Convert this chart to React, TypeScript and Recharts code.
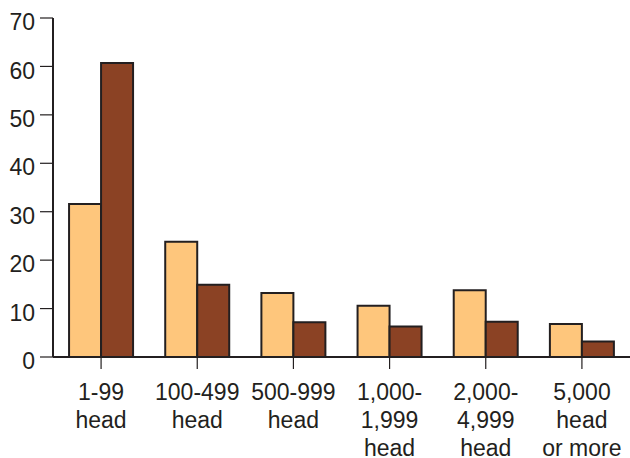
import React from 'react';
import { Bar, BarChart, XAxis, YAxis } from 'recharts';

const categories = ['1-99 head', '100-499 head', '500-999 head', '1,000-1,999 head', '2,000-4,999 head', '5,000 head or more'];
const tickLines = [
  ['1-99', 'head'],
  ['100-499', 'head'],
  ['500-999', 'head'],
  ['1,000-', '1,999', 'head'],
  ['2,000-', '4,999', 'head'],
  ['5,000', 'head', 'or more'],
];
const lightValues = [31.6, 23.8, 13.2, 10.6, 13.8, 6.8];
const darkValues = [60.7, 14.9, 7.2, 6.3, 7.3, 3.2];
const yTicks = [0, 10, 20, 30, 40, 50, 60, 70];

const data = categories.map((c, i) => ({ name: c, light: lightValues[i], dark: darkValues[i] }));

const FONT = '"Liberation Sans", Arial, Helvetica, sans-serif';
const INK = '#231f20';

function CategoryTick(props: any) {
  const { x, y, index } = props;
  const lines = tickLines[index] || [];
  return (
    <text x={x} y={y + 29} textAnchor="middle" fill={INK} fontSize={23} fontFamily={FONT}>
      {lines.map((l, i) => (
        <tspan key={i} x={x} dy={i === 0 ? 0 : 28}>
          {l}
        </tspan>
      ))}
    </text>
  );
}

export default function App() {
  return (
    <div style={{ position: 'fixed', left: 0, top: 0, width: 630, height: 458, background: '#fff' }}>
      <BarChart
        width={630}
        height={458}
        data={data}
        margin={{ top: 18, right: 0, bottom: 0, left: 0 }}
        barCategoryGap="16.7%"
        barGap={0}
      >
        <XAxis
          dataKey="name"
          height={101}
          interval={0}
          tickSize={12}
          tickMargin={2}
          axisLine={{ stroke: INK, strokeWidth: 2 }}
          tickLine={{ stroke: INK, strokeWidth: 1.2 }}
          tick={<CategoryTick />}
        />
        <YAxis
          width={53}
          domain={[0, 70]}
          ticks={yTicks}
          interval={0}
          tickSize={13}
          tickMargin={5}
          axisLine={{ stroke: INK, strokeWidth: 2 }}
          tickLine={{ stroke: INK, strokeWidth: 1.2 }}
          tick={{ fill: INK, fontSize: 23, fontFamily: FONT, dy: 4 }}
        />
        <Bar dataKey="light" fill="#fec67c" stroke={INK} strokeWidth={2} isAnimationActive={false} />
        <Bar dataKey="dark" fill="#8b4224" stroke={INK} strokeWidth={2} isAnimationActive={false} />
      </BarChart>
    </div>
  );
}
